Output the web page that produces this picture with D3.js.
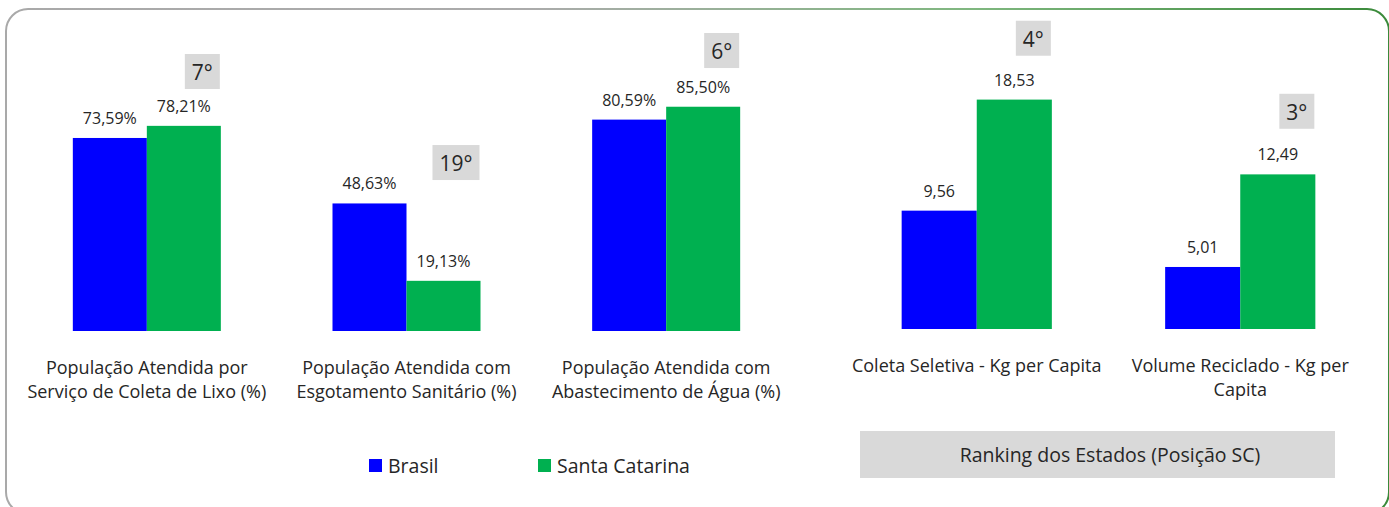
<!DOCTYPE html>
<html><head><meta charset="utf-8">
<script src="https://cdn.jsdelivr.net/npm/d3@7"></script>
<style>
html,body{margin:0;padding:0;background:#fff;}
svg{display:block;font-family:"Open Sans","Noto Sans",sans-serif;}
</style></head>
<body>
<svg id="chart" width="1389" height="507"></svg>
<script>
// ---- data ----
const seriesNames = ["Brasil", "Santa Catarina"];
const leftCategories = [
  ["População Atendida por", "Serviço de Coleta de Lixo (%)"],
  ["População Atendida com", "Esgotamento Sanitário (%)"],
  ["População Atendida com", "Abastecimento de Água (%)"]
];
const leftBrasil = [73.59, 48.63, 80.59];
const leftSC = [78.21, 19.13, 85.50];
const rightCategories = [
  ["Coleta Seletiva - Kg per Capita"],
  ["Volume Reciclado - Kg per", "Capita"]
];
const rightBrasil = [9.56, 5.01];
const rightSC = [18.53, 12.49];
const leftRanks = ["7°", "19°", "6°"];
const rightRanks = ["4°", "3°"];
// rank annotation anchors, in each panel's value units
const leftRankAnchors = [105.6, 70.9, 113.6];
const rightRankAnchors = [24.9, 19.0];
const rankingTitle = "Ranking dos Estados (Posição SC)";

// ---- setup ----
const svg = d3.select("#chart");
const colors = d3.scaleOrdinal().domain(seriesNames).range(["#0000ff", "#00b050"]);
const ptBR = d3.formatLocale({decimal: ",", thousands: ".", grouping: [3], currency: ["R$", ""]});
const f2 = ptBR.format(".2f");
const textColor = "#262626";

// border with gradient
const defs = svg.append("defs");
const grad = defs.append("linearGradient").attr("id", "bord").attr("x1", "0").attr("x2", "1").attr("y1", "0").attr("y2", "0");
[[0, "#a9a9a9"], [0.38, "#ababab"], [0.7, "#7fb77f"], [1, "#3a8a3a"]].forEach(([o, c]) =>
  grad.append("stop").attr("offset", o).attr("stop-color", c));
svg.append("rect").attr("x", 6).attr("y", 9).attr("width", 1383).attr("height", 505)
  .attr("rx", 22).attr("ry", 22).attr("fill", "none").attr("stroke", "url(#bord)").attr("stroke-width", 2);

function panel(cats, brasil, sc, ranks, anchors, xRange, y, fmt) {
  const keys = cats.map(c => c.join(" "));
  const x0 = d3.scaleBand().domain(keys).range(xRange).padding(0);
  const groupW = x0.bandwidth() * 0.57;
  const x1 = d3.scaleBand().domain(seriesNames).range([0, groupW]).padding(0);
  const off = (x0.bandwidth() - groupW) / 2;
  const rows = keys.map((k, i) => ({key: k, lines: cats[i], vals: [brasil[i], sc[i]], rank: ranks[i], anchor: anchors[i]}));
  const base = y(0);

  const g = svg.append("g");
  const grp = g.selectAll("g.grp").data(rows).join("g").attr("class", "grp")
    .attr("transform", d => `translate(${x0(d.key) + off},0)`);

  grp.selectAll("rect.bar").data(d => d.vals.map((v, j) => ({s: seriesNames[j], v})))
    .join("rect").attr("class", "bar")
    .attr("x", d => x1(d.s)).attr("width", x1.bandwidth())
    .attr("y", d => y(d.v)).attr("height", d => base - y(d.v))
    .attr("fill", d => colors(d.s));

  grp.selectAll("text.val").data(d => d.vals.map((v, j) => ({s: seriesNames[j], v})))
    .join("text").attr("class", "val")
    .attr("x", d => x1(d.s) + x1.bandwidth() / 2).attr("y", d => y(d.v) - 14)
    .attr("text-anchor", "middle").attr("font-size", 16).attr("fill", textColor)
    .text(d => fmt(d.v));

  // category labels
  const lab = g.selectAll("text.cat").data(rows).join("text").attr("class", "cat")
    .attr("text-anchor", "middle").attr("font-size", 18).attr("fill", textColor)
    .attr("x", d => x0(d.key) + x0.bandwidth() / 2).attr("y", base + 43);
  lab.selectAll("tspan").data(d => d.lines.map((l, i) => ({l, i, x: x0(d.key) + x0.bandwidth() / 2})))
    .join("tspan").attr("x", d => d.x).attr("dy", d => d.i === 0 ? 0 : 24).text(d => d.l);

  // rank boxes
  rows.forEach(d => {
    const right = x0(d.key) + off + x1("Santa Catarina") + x1.bandwidth() - 1;
    const top = y(d.anchor);
    const rg = g.append("g");
    const rect = rg.append("rect").attr("fill", "#d9d9d9");
    const t = rg.append("text").attr("font-size", 21).attr("fill", textColor)
      .attr("text-anchor", "middle").text(d.rank);
    const w = t.node().getComputedTextLength() + 14;
    rect.attr("x", right - w).attr("y", top).attr("width", w).attr("height", 35);
    t.attr("x", right - w / 2).attr("y", top + 26);
  });
}

const yLeft = d3.scaleLinear().domain([0, 100]).range([331, 68.7]);
const yRight = d3.scaleLinear().domain([0, 20]).range([329, 81.4]);
panel(leftCategories, leftBrasil, leftSC, leftRanks, leftRankAnchors, [17, 796], yLeft, v => f2(v) + "%");
panel(rightCategories, rightBrasil, rightSC, rightRanks, rightRankAnchors, [845, 1372], yRight, v => f2(v));

// legend
const legend = svg.append("g").selectAll("g").data(seriesNames).join("g")
  .attr("transform", (d, i) => `translate(${[369, 538][i]},459)`);
legend.append("rect").attr("width", 13).attr("height", 13).attr("fill", d => colors(d));
legend.append("text").attr("x", 19).attr("y", 14).attr("font-size", 19.5).attr("fill", textColor).text(d => d);

// ranking title box
svg.append("rect").attr("x", 860).attr("y", 431).attr("width", 475).attr("height", 47).attr("fill", "#d9d9d9");
svg.append("text").attr("x", 1110).attr("y", 462).attr("text-anchor", "middle")
  .attr("font-size", 19.5).attr("fill", textColor).text(rankingTitle);
</script>
</body></html>
